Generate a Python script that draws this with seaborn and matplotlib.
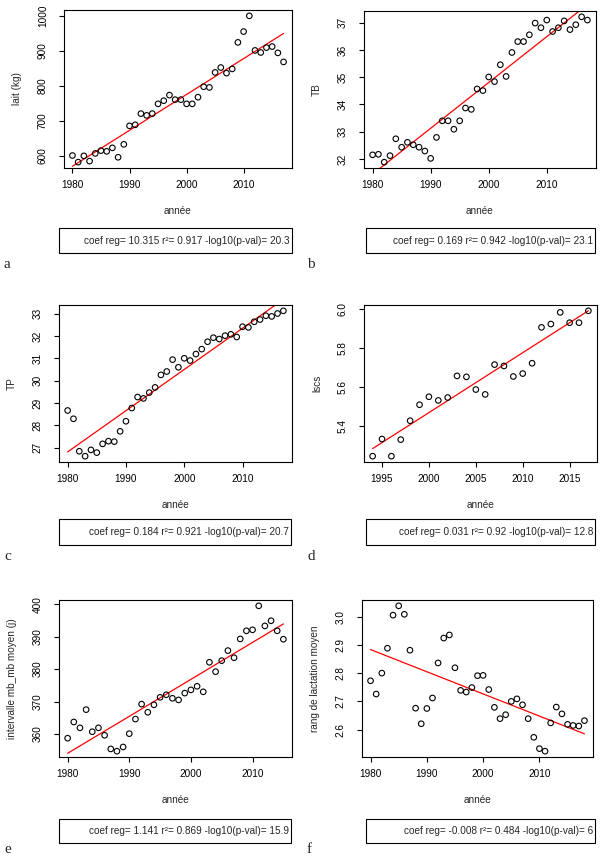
import numpy as np
import pandas as pd
import matplotlib
matplotlib.use("Agg")
import matplotlib.pyplot as plt
from matplotlib.patches import Rectangle
import seaborn as sns

sns.set_style("ticks")
plt.rcParams['font.family'] = ['Liberation Sans', 'DejaVu Sans']
plt.rcParams['axes.edgecolor'] = 'black'
plt.rcParams['axes.linewidth'] = 0.8
plt.rcParams['xtick.color'] = 'black'
plt.rcParams['ytick.color'] = 'black'

# ---- data ----
annees_a = list(range(1980, 2018))
lait = [600, 581, 599, 584, 606, 614, 612, 622, 595, 632,
        685, 688, 720, 715, 720, 748, 757, 773, 760, 760,
        748, 748, 767, 797, 795, 838, 852, 836, 848, 924,
        955, 1000, 901, 895, 909, 912, 894, 868]

annees_b = list(range(1980, 2018))
tb = [32.15, 32.17, 31.88, 32.12, 32.74, 32.43, 32.61, 32.52, 32.43, 32.29,
      32.02, 32.79, 33.40, 33.40, 33.09, 33.40, 33.87, 33.82, 34.57, 34.51,
      35.01, 34.84, 35.46, 35.03, 35.91, 36.31, 36.31, 36.56, 36.99, 36.82,
      37.10, 36.68, 36.82, 37.07, 36.75, 36.93, 37.22, 37.10]

annees_c = list(range(1980, 2018))
tp = [28.67, 28.30, 26.85, 26.63, 26.91, 26.79, 27.18, 27.30, 27.28, 27.74,
      28.19, 28.78, 29.27, 29.21, 29.47, 29.70, 30.26, 30.41, 30.94, 30.60,
      31.00, 30.90, 31.19, 31.41, 31.74, 31.92, 31.86, 32.01, 32.07, 31.95,
      32.41, 32.38, 32.63, 32.73, 32.90, 32.87, 33.00, 33.12]

annees_d = list(range(1994, 2018))
lscs = [5.247, 5.335, 5.247, 5.332, 5.429, 5.511, 5.552, 5.533, 5.548, 5.659,
        5.654, 5.589, 5.564, 5.717, 5.710, 5.656, 5.671, 5.724, 5.908, 5.925,
        5.985, 5.932, 5.932, 5.993]

annees_e = list(range(1980, 2016))
intervalle = [358.7, 363.7, 361.9, 367.5, 360.7, 361.9, 359.6, 355.4, 354.7, 356.0,
              360.1, 364.6, 369.2, 366.7, 369.0, 371.3, 372.1, 371.0, 370.5, 372.6,
              373.6, 374.7, 373.0, 382.1, 379.2, 382.6, 385.7, 383.5, 389.3, 391.8,
              392.1, 399.5, 393.3, 394.9, 391.8, 389.2]

annees_f = list(range(1980, 2019))
rang = [2.773, 2.726, 2.800, 2.888, 3.005, 3.038, 3.008, 2.881, 2.676, 2.621,
        2.675, 2.712, 2.836, 2.924, 2.935, 2.819, 2.739, 2.733, 2.749, 2.791,
        2.792, 2.742, 2.679, 2.639, 2.653, 2.700, 2.709, 2.688, 2.639, 2.573,
        2.533, 2.524, 2.624, 2.680, 2.656, 2.619, 2.615, 2.613, 2.632]

ylabels = ["lait (kg)", "TB", "TP", "lscs", "intervalle mb_mb moyen (j)", "rang de lactation moyen"]
coefs = ["10.315", "0.169", "0.184", "0.031", "1.141", "-0.008"]
r2s = ["0.917", "0.942", "0.921", "0.92", "0.869", "0.484"]
logps = ["20.3", "23.1", "20.7", "12.8", "15.9", "6"]
lettres = ["a", "b", "c", "d", "e", "f"]

yticks = [[600, 700, 800, 900, 1000], [32, 33, 34, 35, 36, 37], [27, 28, 29, 30, 31, 32, 33],
          [5.4, 5.6, 5.8, 6.0], [360, 370, 380, 390, 400], [2.6, 2.7, 2.8, 2.9, 3.0]]
yticklabels = [["600", "700", "800", "900", "1000"], ["32", "33", "34", "35", "36", "37"],
               ["27", "28", "29", "30", "31", "32", "33"], ["5.4", "5.6", "5.8", "6.0"],
               ["360", "370", "380", "390", "400"], ["2.6", "2.7", "2.8", "2.9", "3.0"]]
xticks = [[1980, 1990, 2000, 2010]] * 3 + [[1995, 2000, 2005, 2010, 2015]] + [[1980, 1990, 2000, 2010]] * 2

series = [(annees_a, lait), (annees_b, tb), (annees_c, tp),
          (annees_d, lscs), (annees_e, intervalle), (annees_f, rang)]

# ---- layout (pixels) ----
W, H = 603, 856
axes_px = [(64, 10, 292, 168), (364, 11, 596, 168),
           (59, 305, 292, 462), (364, 305, 597, 462),
           (59, 600, 292, 757), (362, 600, 593, 757)]
box_px = [(59, 228, 292, 253), (366, 228, 595, 253),
          (59, 519, 291, 545), (366, 519, 595, 545),
          (59, 819, 291, 843), (366, 819, 595, 843)]
letter_px = [(4, 268), (307, 268), (4, 560), (307, 560), (4, 853), (307, 853)]

FS = 7.2
fig = plt.figure(figsize=(W / 100, H / 100), dpi=100)

for i in range(6):
    l, t, r, b = axes_px[i]
    ax = fig.add_axes([l / W, 1 - b / H, (r - l) / W, (b - t) / H])
    x, y = series[i]
    df = pd.DataFrame({"annee": x, "val": y})
    sns.regplot(data=df, x="annee", y="val", ax=ax, ci=None, color="black",
                scatter_kws=dict(facecolors="none", edgecolors="black", s=16,
                                 linewidths=0.8, alpha=1, zorder=3),
                line_kws=dict(color="red", lw=0.9, zorder=2))
    # R style limits: data range + 4%
    xr = max(x) - min(x)
    yr = max(y) - min(y)
    ax.set_xlim(min(x) - 0.04 * xr, max(x) + 0.04 * xr)
    ax.set_ylim(min(y) - 0.04 * yr, max(y) + 0.04 * yr)
    ax.set_xticks(xticks[i])
    ax.set_yticks(yticks[i])
    ax.set_yticklabels(yticklabels[i], rotation=90, va="center")
    ax.tick_params(axis="both", direction="out", length=3.6, width=0.8, labelsize=FS)
    ax.tick_params(axis="x", pad=5)
    ax.tick_params(axis="y", pad=8)
    for s in ax.spines.values():
        s.set_visible(True)
    ax.set_xlabel("année", fontsize=FS)
    ax.set_ylabel(ylabels[i], fontsize=FS)
    ax.xaxis.set_label_coords(0.5, -43 / (b - t))
    ax.xaxis.label.set_va("center")
    ax.yaxis.set_label_coords(-47 / (r - l), 0.5)
    ax.yaxis.label.set_va("center")

    # stats box under the plot
    bl, bt, br, bb = box_px[i]
    fig.patches.append(Rectangle((bl / W, 1 - bb / H), (br - bl) / W, (bb - bt) / H,
                                 transform=fig.transFigure, facecolor="white",
                                 edgecolor="black", lw=0.8))
    txt = "coef reg= %s r²= %s -log10(p-val)= %s" % (coefs[i], r2s[i], logps[i])
    fig.text((br - 2) / W, 1 - ((bt + bb) / 2) / H, txt, ha="right", va="center",
             fontsize=FS)

    lx, ly = letter_px[i]
    fig.text(lx / W, 1 - ly / H, lettres[i], ha="left", va="baseline",
             fontsize=11, family=["Liberation Serif", "DejaVu Serif"])

fig.savefig("out.png", dpi=100)
